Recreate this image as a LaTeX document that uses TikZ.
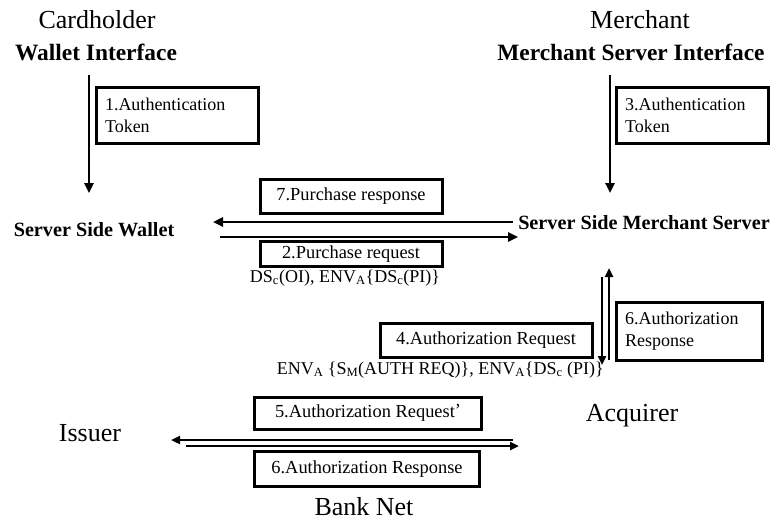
\documentclass[tikz,border=0pt]{standalone}
\usepackage{fontspec}
\setmainfont{Liberation Serif}
\usetikzlibrary{arrows.meta}
\begin{document}
\begin{tikzpicture}[x=1pt,y=-1pt,
  lbl/.style={font={\fontsize{26}{30}\selectfont}, inner sep=0pt},
  blbl/.style={font={\fontsize{23.4}{28}\selectfont\bfseries}, inner sep=0pt},
  slbl/.style={font={\fontsize{20.2}{24}\selectfont\bfseries}, inner sep=0pt},
  msgbox/.style={draw, line width=3pt, font={\fontsize{18.4}{22}\selectfont}, inner sep=0pt, align=center},
  tallbox/.style={draw, line width=3pt, font={\fontsize{18}{22}\selectfont}, inner xsep=9pt, inner ysep=0pt, align=left},
  formula/.style={font={\fontsize{18}{22}\selectfont}, inner sep=0pt},
  arr/.style={line width=2.4pt, -{Triangle[length=10pt,width=9pt]}},
  arrs/.style={line width=2.4pt, -{Triangle[length=9pt,width=8pt]}}]
\useasboundingbox (0,0) rectangle (773,522);

% headings
\node[lbl]  (card)  at (97,20)  {Cardholder};
\node[blbl] (wif)   at (96,52)  {Wallet Interface};
\node[lbl]  (merch) at (640,20) {Merchant};
\node[blbl] (mif)   at (631,52) {Merchant Server Interface};
\node[slbl] (ssw)   at (94,230) {Server Side Wallet};
\node[slbl] (ssm)   at (644,223) {Server Side Merchant Server};
\node[lbl]  (iss)   at (90,433) {Issuer};
\node[lbl]  (acq)   at (632,416) {Acquirer};
\node[lbl]  (bank)  at (364,507) {Bank Net};

% message boxes
\node[tallbox, text width=144pt, minimum height=56pt] (b1) at (177,115) {1.Authentication\\Token};
\node[tallbox, text width=134pt, minimum height=56pt] (b3) at (692,115) {3.Authentication\\Token};
\node[msgbox, minimum width=182pt, minimum height=34pt] (b7) at (351,196) {7.Purchase response};
\node[msgbox, minimum width=182pt, minimum height=25pt] (b2) at (351,254) {2.Purchase request};
\node[formula] (f1) at (345,278) {DS\textsubscript{c}(OI), ENV\textsubscript{A}\{DS\textsubscript{c}(PI)\}};
\node[msgbox, minimum width=212pt, minimum height=34pt] (b4) at (486,340) {4.Authorization Request};
\node[tallbox, text width=128pt, minimum height=58pt] (b6r) at (689,331) {6.Authorization\\Response};
\node[formula, anchor=east] (f2) at (604,370) {ENV\textsubscript{A} \{S\textsubscript{M}(AUTH REQ)\}, ENV\textsubscript{A}\{DS\textsubscript{c} (PI)\}};
\node[msgbox, minimum width=227pt, minimum height=32pt] (b5) at (368,413) {5.Authorization Request\raisebox{1pt}{\textquoteright}};
\node[msgbox, minimum width=225pt, minimum height=35pt] (b6b) at (367,469) {6.Authorization Response};

% connector end points
\coordinate (a1s) at (89,75);   \coordinate (a1e) at (89,193);
\coordinate (a3s) at (610,75);  \coordinate (a3e) at (610,193);
\coordinate (p7s) at (513,222); \coordinate (p7e) at (213,222);
\coordinate (p2s) at (220,237); \coordinate (p2e) at (518,237);
\coordinate (r6s) at (609,360); \coordinate (r6e) at (609,268);
\coordinate (q4s) at (602,277); \coordinate (q4e) at (602,365);
\coordinate (q5s) at (513,440); \coordinate (q5e) at (171,440);
\coordinate (r6bs) at (186,446); \coordinate (r6be) at (519,446);

\draw[arr] (a1s) -- (a1e);
\draw[arr] (a3s) -- (a3e);
\draw[arr] (p7s) -- (p7e);
\draw[arr] (p2s) -- (p2e);
\draw[arrs] (r6s) -- (r6e);
\draw[arrs] (q4s) -- (q4e);
\draw[arrs] (q5s) -- (q5e);
\draw[arrs] (r6bs) -- (r6be);
\end{tikzpicture}
\end{document}
